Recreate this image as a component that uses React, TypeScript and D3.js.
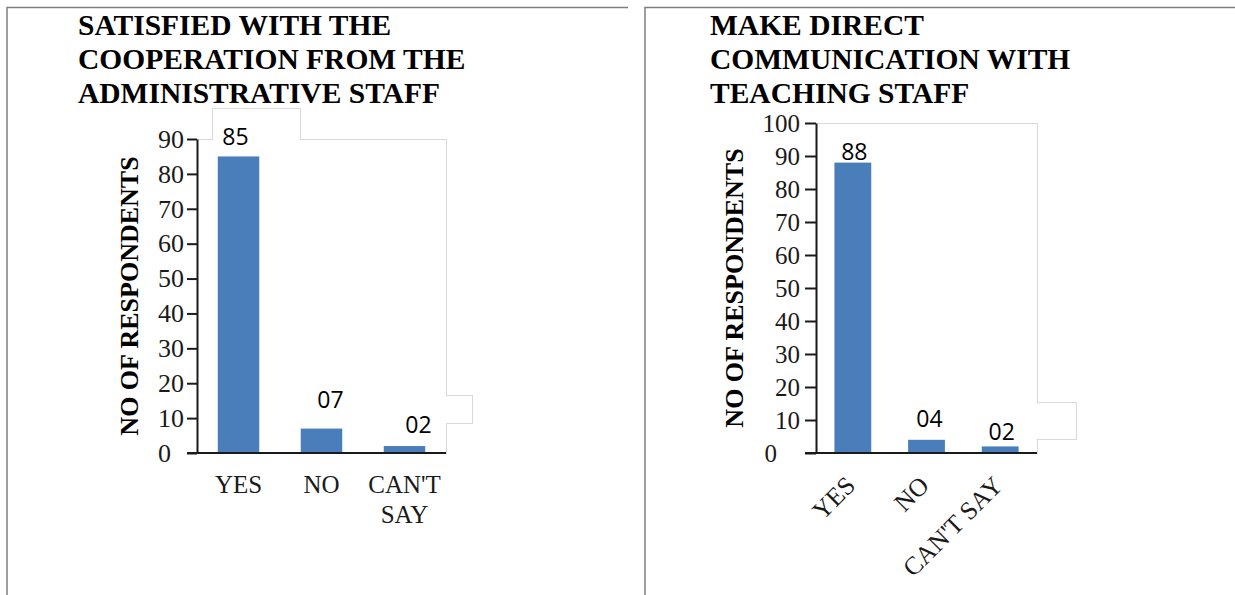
import React, { useEffect } from 'react';
import * as d3 from 'd3';

// survey answers shared by both charts
const categories = ['YES', 'NO', "CAN'T SAY"];

// chart 1: cooperation from the administrative staff
const adminTitle = ['SATISFIED WITH THE', 'COOPERATION FROM THE', 'ADMINISTRATIVE STAFF'];
const adminValues = [85, 7, 2];
const adminLabels = ['85', '07', '02'];
const adminTicks = [0, 10, 20, 30, 40, 50, 60, 70, 80, 90];

// chart 2: direct communication with teaching staff
const teachingTitle = ['MAKE DIRECT', 'COMMUNICATION WITH', 'TEACHING STAFF'];
const teachingValues = [88, 4, 2];
const teachingLabels = ['88', '04', '02'];
const teachingTicks = [0, 10, 20, 30, 40, 50, 60, 70, 80, 90, 100];

const yTitle = 'NO OF RESPONDENTS';

const width = 1235;
const height = 595;
const serif = "'Liberation Serif', 'Times New Roman', serif";
const sans = "'Open Sans', 'Noto Sans', sans-serif";
const barColor = '#4a7ebb';

const charts = [
    {
        title: adminTitle, values: adminValues, labels: adminLabels, ticks: adminTicks,
        frameLeft: 7, frameRight: 628, titleX: 78,
        plot: { left: 197, right: 446, top: 139, bottom: 453 },
        yTitleX: 138, tickFont: 26, tickLen: 10, tickPad: 3, zeroShift: -13,
        rotate: false,
        nudge: [[-3, -11], [9, -21], [14, -13]],
        boxes: [[-24, 64, -37, 0], null, [-39, 53, -38, -10]],
    },
    {
        title: teachingTitle, values: teachingValues, labels: teachingLabels, ticks: teachingTicks,
        frameLeft: 645, frameRight: 1235, titleX: 710,
        plot: { left: 816, right: 1037, top: 123, bottom: 453 },
        yTitleX: 743, tickFont: 25, tickLen: 11, tickPad: 5, zeroShift: -23,
        rotate: true,
        nudge: [[1.5, -3], [3, -13], [1.5, -6]],
        boxes: [null, null, [-42, 74, -38, -1]],
    },
];

const App = () => {
    useEffect(() => {
        d3.select('#survey-svg').selectAll('*').remove();
        const svg = d3.select('#survey-svg');
        svg.append('rect').attr('width', width).attr('height', height).attr('fill', '#fff');
        charts.forEach(cfg => drawChart(svg, cfg));
    }, []);

    function drawChart(svg, cfg) {
        const g = svg.append('g');
        const { plot } = cfg;

        const x = d3.scaleBand()
            .domain(categories)
            .range([plot.left, plot.right])
            .paddingInner(0.5)
            .paddingOuter(0.25);

        const y = d3.scaleLinear()
            .domain([0, d3.max(cfg.ticks)])
            .range([plot.bottom, plot.top]);

        // panel frame
        g.append('path')
            .attr('d', `M${cfg.frameLeft},${height} V7.5 H${cfg.frameRight}`)
            .attr('fill', 'none')
            .attr('stroke', '#7f7f7f')
            .attr('stroke-width', 1.5);

        // title
        const title = g.append('text')
            .attr('font-family', serif)
            .attr('font-weight', 'bold')
            .attr('font-size', 29.5)
            .attr('fill', '#000');
        cfg.title.forEach((line, i) => {
            title.append('tspan').attr('x', cfg.titleX).attr('y', 35 + i * 34).text(line);
        });

        const anchors = cfg.values.map((v, i) => [
            x(categories[i]) + x.bandwidth() / 2 + cfg.nudge[i][0],
            y(v) + cfg.nudge[i][1],
        ]);

        // plot area border with data-label boxes sticking out of it
        const boxes = cfg.boxes
            .map((b, i) => b && { x0: anchors[i][0] + b[0], x1: anchors[i][0] + b[1], y0: anchors[i][1] + b[2], y1: anchors[i][1] + b[3] })
            .filter(Boolean);
        const boxSel = (sel, inset) => sel.selectAll(null)
            .data(boxes)
            .enter()
            .append('rect')
            .attr('x', d => Math.round(d.x0) + 0.5 + inset)
            .attr('y', d => Math.round(d.y0) + 0.5 + inset)
            .attr('width', d => Math.round(d.x1 - d.x0) - 2 * inset)
            .attr('height', d => Math.round(d.y1 - d.y0) - 2 * inset)
            .attr('fill', '#fff');
        boxSel(g, 0).attr('stroke', '#d9d9d9');
        g.append('rect')
            .attr('x', plot.left + 0.5)
            .attr('y', plot.top + 0.5)
            .attr('width', plot.right - plot.left)
            .attr('height', plot.bottom - plot.top)
            .attr('fill', '#fff')
            .attr('stroke', '#d9d9d9');
        boxSel(g, 1);

        // bars
        g.selectAll(null)
            .data(cfg.values)
            .enter()
            .append('rect')
            .attr('x', (d, i) => x(categories[i]))
            .attr('y', d => y(d))
            .attr('width', x.bandwidth())
            .attr('height', d => y(0) - y(d))
            .attr('fill', barColor);

        // data labels
        g.selectAll(null)
            .data(cfg.labels)
            .enter()
            .append('text')
            .attr('x', (d, i) => anchors[i][0])
            .attr('y', (d, i) => anchors[i][1])
            .attr('text-anchor', 'middle')
            .attr('font-family', sans)
            .attr('font-size', 23)
            .attr('fill', '#000')
            .text(d => d);

        // y axis
        const yAxis = g.append('g')
            .attr('transform', `translate(${plot.left},0)`)
            .call(d3.axisLeft(y).tickValues(cfg.ticks).tickSize(cfg.tickLen).tickSizeOuter(0).tickPadding(cfg.tickPad));
        yAxis.select('.domain').attr('stroke', '#1a1a1a').attr('stroke-width', 2);
        yAxis.selectAll('.tick line').attr('stroke', '#1a1a1a').attr('stroke-width', 2);
        yAxis.selectAll('.tick text')
            .attr('font-family', serif)
            .attr('font-size', cfg.tickFont)
            .attr('fill', '#1a1a1a')
            .attr('dx', d => (d === 0 ? cfg.zeroShift : 0));
        yAxis.attr('font-family', serif).attr('font-size', cfg.tickFont);

        // x axis line
        g.append('line')
            .attr('x1', plot.left - cfg.tickLen)
            .attr('x2', plot.right)
            .attr('y1', y(0))
            .attr('y2', y(0))
            .attr('stroke', '#1a1a1a')
            .attr('stroke-width', 2);

        // category labels
        if (cfg.rotate) {
            g.selectAll(null)
                .data(categories)
                .enter()
                .append('text')
                .attr('transform', d => `translate(${x(d) + x.bandwidth() / 2 + 4},${y(0) + 34}) rotate(-45)`)
                .attr('text-anchor', 'end')
                .attr('font-family', serif)
                .attr('font-size', 25.5)
                .attr('fill', '#1a1a1a')
                .text(d => d);
        } else {
            const labels = g.selectAll(null)
                .data(categories)
                .enter()
                .append('text')
                .attr('text-anchor', 'middle')
                .attr('font-family', serif)
                .attr('font-size', 25)
                .attr('fill', '#1a1a1a');
            labels.each(function (d) {
                const words = d === "CAN'T SAY" ? ["CAN'T", 'SAY'] : [d];
                words.forEach((w, i) => {
                    d3.select(this).append('tspan')
                        .attr('x', x(d) + x.bandwidth() / 2)
                        .attr('y', y(0) + 40 + i * 30)
                        .text(w);
                });
            });
        }

        // y axis title
        g.append('text')
            .attr('transform', `translate(${cfg.yTitleX},${(plot.top + plot.bottom) / 2}) rotate(-90)`)
            .attr('text-anchor', 'middle')
            .attr('font-family', serif)
            .attr('font-weight', 'bold')
            .attr('font-size', 26)
            .attr('fill', '#000')
            .text(yTitle);
    }

    return (
        <svg id="survey-svg" width={width} height={height}
            style={{ position: 'absolute', left: 0, top: 0, display: 'block' }}></svg>
    );
};

export default App;
